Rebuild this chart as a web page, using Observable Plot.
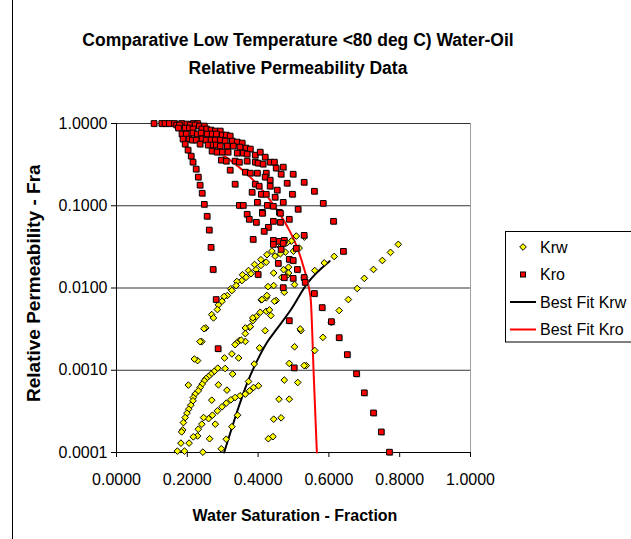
<!DOCTYPE html>
<html>
<head>
<meta charset="utf-8">
<script src="https://cdn.jsdelivr.net/npm/d3@7"></script>
<script src="https://cdn.jsdelivr.net/npm/@observablehq/plot@0.6"></script>
<style>
  body { margin: 0; background: #fff; }
  #chart { position: relative; width: 631px; height: 539px; overflow: hidden; background: #fff; }
  #chart svg { display: block; }
</style>
</head>
<body>
<div id="chart"></div>
<script>
// ---------- data ----------
const titleLines = ["Comparative Low Temperature <80 deg C) Water-Oil", "Relative Permeability Data"];
const xTitle = "Water Saturation - Fraction";
const yTitle = "Relative Permeability - Fraction";
const legendLabels = ["Krw", "Kro", "Best Fit Krw", "Best Fit Kro"];
const xTicks = [0, 0.2, 0.4, 0.6, 0.8, 1.0];
const yTicks = [0.0001, 0.001, 0.01, 0.1, 1];

// Krw (water relative permeability) points: [Sw, Krw]
const krwData = [
  [0.796,0.0339],[0.774,0.0271],[0.751,0.0216],[0.726,0.0168],[0.700,0.0131],[0.680,0.00986],[0.655,0.00724],[0.629,0.00532],
  [0.607,0.00380],[0.583,0.00251],[0.560,0.00174],[0.536,0.00114],[0.512,0.00071],[0.488,0.000445],[0.465,0.000264],[0.442,0.000156],
  [0.530,0.00114],[0.488,0.00121],[0.474,0.00076],[0.459,0.000445],[0.444,0.000254],[0.429,0.000147],[0.503,0.00193],[0.521,0.00303],
  [0.420,0.00303],[0.404,0.00187],[0.389,0.00119],[0.373,0.00073],[0.401,0.000647],[0.387,0.000617],
  [0.615,0.0242],[0.587,0.0202],[0.560,0.0163],[0.531,0.0135],
  [0.508,0.0428],[0.531,0.0416],[0.494,0.0372],[0.516,0.0306],[0.500,0.0281],[0.482,0.0356],[0.463,0.0315],[0.477,0.0273],
  [0.463,0.0261],[0.448,0.0244],[0.439,0.0281],[0.486,0.0179],[0.472,0.0167],[0.486,0.0152],[0.444,0.0152],[0.467,0.0135],
  [0.480,0.0139],[0.503,0.0110],[0.444,0.0107],[0.474,0.00889],[0.451,0.00704],[0.446,0.0069],[0.423,0.00521],[0.436,0.00462],
  [0.519,0.00318],[0.428,0.0104],[0.423,0.0076],[0.409,0.00718],[0.432,0.00542],[0.406,0.00507],[0.395,0.00449],[0.385,0.00401],
  [0.376,0.00333],[0.364,0.00327],[0.364,0.00279],[0.378,0.0034],[0.347,0.00229],[0.340,0.00215],[0.335,0.00205],[0.364,0.00224],
  [0.326,0.00158],[0.345,0.00141],[0.305,0.00141],[0.307,0.00105],[0.328,0.0009],[0.312,0.000573],[0.342,0.000284],[0.326,0.000206],
  [0.310,0.000145],[0.296,0.000111],[0.244,0.000101],[0.425,0.0081],[0.411,0.00724],[0.385,0.00433],[0.352,0.00233],
  [0.376,0.000562],[0.364,0.000513],[0.349,0.000489],[0.335,0.000466],[0.323,0.000437],[0.310,0.000398],[0.298,0.000359],[0.285,0.000321],
  [0.271,0.000284],[0.260,0.000258],[0.246,0.000266],[0.241,0.000221],[0.231,0.000192],[0.229,0.000159],[0.217,0.000155],[0.205,0.00013],
  [0.269,0.000433],[0.279,0.000221],[0.263,0.000147],[0.288,0.000666],[0.203,0.00066],
  [0.286,0.00106],[0.276,0.000967],[0.267,0.0009],[0.260,0.00084],[0.253,0.000794],[0.248,0.000745],[0.242,0.000679],[0.236,0.000617],
  [0.231,0.000562],[0.222,0.000513],[0.217,0.000466],[0.216,0.000425],[0.210,0.000376],[0.204,0.000336],[0.199,0.000301],[0.194,0.000266],
  [0.189,0.000231],[0.187,0.000188],[0.184,0.000178],[0.182,0.00013],[0.172,0.000104],[0.192,0.000104],
  [0.425,0.0254],[0.408,0.0221],[0.423,0.0206],[0.390,0.0193],[0.408,0.0188],[0.373,0.0163],[0.394,0.0167],[0.380,0.0149],
  [0.356,0.0145],[0.366,0.0135],[0.354,0.0123],[0.340,0.0120],[0.338,0.0107],[0.323,0.00978],[0.326,0.00932],[0.313,0.0081],
  [0.304,0.00788],[0.298,0.0069],[0.288,0.00624],[0.285,0.00547],[0.269,0.00475],[0.274,0.00433],[0.252,0.00327],[0.247,0.0032],
  [0.241,0.00223],[0.236,0.00223],[0.229,0.00131],[0.220,0.00137]
];

// Kro (oil relative permeability) points: [Sw, Kro]
const kroData = [
  [0.106,1],[0.128,1],[0.137,1],[0.149,1],[0.164,1],[0.184,1],[0.199,0.986],[0.217,1],[0.229,1],
  [0.170,0.959],[0.178,0.959],[0.208,0.959],[0.222,0.959],[0.234,0.932],[0.248,0.932],
  [0.175,0.881],[0.194,0.881],[0.206,0.881],[0.216,0.857],[0.241,0.857],[0.255,0.857],[0.267,0.833],[0.279,0.810],[0.293,0.810],
  [0.185,0.745],[0.197,0.745],[0.216,0.766],[0.228,0.745],[0.239,0.766],[0.256,0.745],[0.270,0.745],[0.282,0.745],[0.299,0.724],[0.310,0.724],[0.321,0.704],
  [0.205,0.647],[0.214,0.629],[0.225,0.629],[0.242,0.647],[0.253,0.629],[0.267,0.629],[0.279,0.629],[0.293,0.629],[0.307,0.612],[0.327,0.612],[0.341,0.595],[0.355,0.578],
  [0.236,0.562],[0.259,0.547],[0.273,0.547],[0.282,0.547],[0.293,0.532],[0.313,0.532],[0.330,0.532],[0.349,0.517],[0.366,0.503],[0.378,0.489],
  [0.270,0.462],[0.284,0.449],[0.299,0.449],[0.315,0.449],[0.341,0.437],[0.358,0.437],[0.369,0.425],[0.392,0.413],[0.406,0.449],[0.420,0.390],
  [0.296,0.359],[0.310,0.349],[0.335,0.349],[0.347,0.339],[0.369,0.349],[0.392,0.339],[0.400,0.330],[0.414,0.321],[0.434,0.339],[0.446,0.339],[0.451,0.287],[0.471,0.295],
  [0.321,0.271],[0.364,0.256],[0.378,0.249],[0.398,0.249],[0.423,0.249],[0.420,0.223],[0.465,0.242],[0.499,0.242],
  [0.335,0.183],[0.392,0.183],[0.403,0.173],[0.434,0.205],[0.482,0.188],[0.530,0.193],[0.434,0.173],
  [0.383,0.146],[0.409,0.138],[0.423,0.138],[0.454,0.155],[0.497,0.138],[0.559,0.150],[0.448,0.127],
  [0.347,0.101],[0.358,0.101],[0.398,0.110],[0.426,0.101],[0.443,0.0986],[0.471,0.110],[0.513,0.0907],[0.584,0.107],[0.412,0.0833],[0.460,0.0833],
  [0.369,0.0788],[0.375,0.0685],[0.412,0.0810],[0.395,0.0629],[0.429,0.0547],[0.417,0.0489],[0.463,0.0810],[0.488,0.0685],[0.443,0.0647],[0.463,0.0629],
  [0.613,0.0647],[0.443,0.0380],[0.460,0.0369],[0.474,0.0380],[0.443,0.0339],[0.471,0.0349],[0.530,0.0437],[0.465,0.0295],[0.508,0.0303],[0.488,0.0223],
  [0.499,0.0216],[0.457,0.0199],[0.641,0.0279],[0.386,0.0390],[0.400,0.0146],[0.511,0.0168],[0.474,0.0134],[0.499,0.0131],[0.530,0.0134],[0.471,0.0101],
  [0.533,0.0117],[0.559,0.00857],[0.581,0.00578],[0.488,0.00401],[0.607,0.00390],[0.629,0.00249],[0.652,0.00155],[0.678,0.000907],[0.700,0.000532],
  [0.726,0.000303],[0.748,0.000178],[0.771,0.000101],[0.502,0.00107],
  [0.188,0.647],[0.194,0.562],[0.202,0.475],[0.211,0.401],[0.216,0.339],[0.225,0.279],[0.231,0.223],[0.236,0.178],[0.242,0.142],[0.248,0.104],
  [0.256,0.0745],[0.262,0.0507],[0.267,0.0312],[0.273,0.0168],[0.2815,0.00724],[0.287,0.00183]
];

// Best-fit curves
const fitKrwSw = [0.304, 0.326, 0.3445, 0.368, 0.397, 0.425, 0.453, 0.491, 0.538, 0.602];
const fitKrwKr = [0.0001, 0.0002, 0.000352, 0.00068, 0.0013, 0.00218, 0.00318, 0.00532, 0.01125, 0.0212];
const fitKroSw = [0.270, 0.321, 0.372, 0.412, 0.448, 0.482, 0.508, 0.528, 0.545, 0.549, 0.557, 0.566];
const fitKroKr = [0.503, 0.359, 0.2355, 0.1545, 0.0959, 0.0562, 0.033, 0.0183, 0.00932, 0.00704, 0.000907, 0.0001];

// ---------- build ----------
const krw = krwData.map(([sw, kr]) => ({sw, kr}));
const kro = kroData.map(([sw, kr]) => ({sw, kr}));
const fitKrw = fitKrwSw.map((sw, i) => ({sw, kr: fitKrwKr[i]}));
const fitKro = fitKroSw.map((sw, i) => ({sw, kr: fitKroKr[i]}));

const FONT = "'Liberation Sans', Arial, Helvetica, sans-serif";

const plot = Plot.plot({
  width: 631,
  height: 539,
  marginLeft: 116,
  marginRight: 161,
  marginTop: 123,
  marginBottom: 87,
  style: {fontFamily: FONT, fontSize: "16px", color: "#000", background: "transparent", overflow: "visible"},
  x: {domain: [0, 1], ticks: xTicks, tickFormat: d => d.toFixed(4), tickSize: 5, tickPadding: 16, label: null},
  y: {type: "log", domain: [0.0001, 1], ticks: yTicks, tickFormat: d => d.toFixed(4), tickSize: 5, tickPadding: 4, label: null},
  marks: [
    Plot.ruleY(yTicks.slice(1), {stroke: "#333", strokeWidth: 1}),
    Plot.ruleX([1], {stroke: "#a0a0a0", strokeWidth: 1}),
    Plot.ruleX([0], {stroke: "#000", strokeWidth: 1}),
    Plot.ruleY([0.0001], {stroke: "#000", strokeWidth: 1}),
    Plot.line(fitKrw, {x: "sw", y: "kr", stroke: "#000", strokeWidth: 2, curve: "monotone-x"}),
    Plot.line(fitKro, {x: "sw", y: "kr", stroke: "#ff0000", strokeWidth: 2, curve: "monotone-x"}),
    Plot.dot(krw, {x: "sw", y: "kr", symbol: "diamond2", r: 3, fill: "#ffff00", stroke: "#000", strokeWidth: 1}),
    Plot.dot(kro, {x: "sw", y: "kr", symbol: "square", r: 3.2, dx: 1, dy: 1, fill: "#9a9a9a", fillOpacity: 0.7, stroke: "none"}),
    Plot.dot(kro, {x: "sw", y: "kr", symbol: "square", r: 3.2, fill: "#ff0000", stroke: "#000", strokeWidth: 1})
  ]
});

const svg = d3.select(plot);

// background and left edge of the chart area border
svg.insert("rect", ":first-child")
  .attr("x", 0).attr("y", 0).attr("width", 631).attr("height", 539).attr("fill", "#fff");
svg.append("line")
  .attr("x1", 12.5).attr("x2", 12.5).attr("y1", 0).attr("y2", 539)
  .attr("stroke", "#000").attr("stroke-width", 1);

// title
titleLines.forEach((t, i) => {
  svg.append("text")
    .attr("x", 298).attr("y", 46 + i * 28)
    .attr("text-anchor", "middle")
    .attr("font-family", FONT).attr("font-weight", "bold").attr("font-size", 17.5)
    .attr("fill", "#000")
    .text(t);
});

// x-axis title
svg.append("text")
  .attr("x", 295).attr("y", 521)
  .attr("text-anchor", "middle")
  .attr("font-family", FONT).attr("font-weight", "bold").attr("font-size", 16)
  .attr("fill", "#000")
  .text(xTitle);

// y-axis title (clipped at top as in the original)
const defs = svg.append("defs");
defs.append("clipPath").attr("id", "yclip")
  .append("rect").attr("x", 0).attr("y", 165).attr("width", 100).attr("height", 300);
svg.append("g").attr("clip-path", "url(#yclip)")
  .append("text")
  .attr("transform", "translate(40,402) rotate(-90)")
  .attr("text-anchor", "start")
  .attr("font-family", FONT).attr("font-weight", "bold").attr("font-size", 19)
  .attr("fill", "#000")
  .text(yTitle);

// legend
const lg = svg.append("g").attr("font-family", FONT).attr("font-size", 16).attr("text-anchor", "start");
lg.append("rect").attr("x", 505.5).attr("y", 231.5).attr("width", 140).attr("height", 110.5)
  .attr("fill", "#fff").attr("stroke", "#000").attr("stroke-width", 1);
const rowY = [247, 274.5, 302, 329.5];
// Krw symbol
lg.append("path")
  .attr("d", d3.symbol(d3.symbolDiamond2, 28)())
  .attr("transform", `translate(523,${rowY[0]})`)
  .attr("fill", "#ffff00").attr("stroke", "#000").attr("stroke-width", 1);
// Kro symbol
lg.append("rect").attr("x", 520.5).attr("y", rowY[1] - 2.5).attr("width", 5).attr("height", 5)
  .attr("fill", "#ff0000").attr("stroke", "#000").attr("stroke-width", 1);
// lines
lg.append("line").attr("x1", 510).attr("x2", 536).attr("y1", rowY[2]).attr("y2", rowY[2])
  .attr("stroke", "#000").attr("stroke-width", 2);
lg.append("line").attr("x1", 510).attr("x2", 536).attr("y1", rowY[3]).attr("y2", rowY[3])
  .attr("stroke", "#ff0000").attr("stroke-width", 2);
legendLabels.forEach((t, i) => {
  lg.append("text").attr("x", 540).attr("y", rowY[i]).attr("dy", "0.36em")
    .attr("text-anchor", "start")
    .attr("fill", "#000").text(t);
});

document.getElementById("chart").appendChild(plot);
</script>
</body>
</html>
